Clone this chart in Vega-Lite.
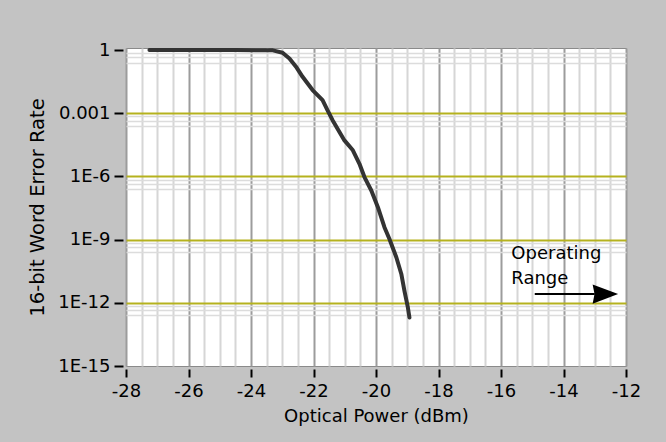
{
  "$schema": "https://vega.github.io/schema/vega-lite/v6.json",
  "width": 500,
  "height": 318,
  "autosize": {"type": "none"},
  "padding": {"left": 126, "top": 48, "right": 40, "bottom": 76},
  "background": "#c3c3c3",
  "config": {
    "view": {"fill": "white", "stroke": "#8a8a8a", "strokeWidth": 1},
    "font": "DejaVu Sans"
  },
  "datasets": {
    "curve": [
      {"power": -27.25, "wer": 1},
      {"power": -26.0, "wer": 1},
      {"power": -24.5, "wer": 1},
      {"power": -23.3, "wer": 0.97},
      {"power": -22.99, "wer": 0.741},
      {"power": -22.77, "wer": 0.398},
      {"power": -22.56, "wer": 0.162},
      {"power": -22.35, "wer": 0.0537},
      {"power": -22.03, "wer": 0.0126},
      {"power": -21.71, "wer": 0.00417},
      {"power": -21.55, "wer": 0.00138},
      {"power": -21.39, "wer": 0.000468},
      {"power": -21.17, "wer": 0.000129},
      {"power": -21.01, "wer": 0.0000513},
      {"power": -20.74, "wer": 0.0000174},
      {"power": -20.53, "wer": 0.00000398},
      {"power": -20.37, "wer": 9.33e-7},
      {"power": -20.15, "wer": 2.14e-7},
      {"power": -19.94, "wer": 3.47e-8},
      {"power": -19.73, "wer": 3.89e-9},
      {"power": -19.57, "wer": 1.07e-9},
      {"power": -19.35, "wer": 1.45e-10},
      {"power": -19.19, "wer": 2.34e-11},
      {"power": -19.09, "wer": 3.72e-12},
      {"power": -18.98, "wer": 6.03e-13},
      {"power": -18.93, "wer": 2.0e-13}
    ],
    "arrow": [
      {"from": -14.92, "to": -13.0, "level": 2.6e-12, "tip": -12.66}
    ],
    "notes": [
      {"power": -15.67, "wer": 1.2e-10, "text": "Operating"},
      {"power": -15.67, "wer": 7.8e-12, "text": "Range"}
    ]
  },
  "layer": [
    {
      "data": {"name": "curve"},
      "mark": {"type": "line", "color": "#333333", "strokeWidth": 4, "strokeCap": "round", "strokeJoin": "round", "clip": true},
      "encoding": {
        "x": {
          "field": "power",
          "type": "quantitative",
          "scale": {"domain": [-28, -12], "nice": false, "zero": false},
          "axis": {
            "values": [-28, -27.5, -27, -26.5, -26, -25.5, -25, -24.5, -24, -23.5, -23, -22.5, -22, -21.5, -21, -20.5, -20, -19.5, -19, -18.5, -18, -17.5, -17, -16.5, -16, -15.5, -15, -14.5, -14, -13.5, -13, -12.5, -12],
            "tickCount": 200,
            "title": "Optical Power (dBm)",
            "grid": true,
            "gridColor": {"condition": {"test": "datum.value % 2 == 0", "value": "#9c9c9c"}, "value": "#d6d6d6"},
            "gridWidth": 2,
            "domain": false,
            "offset": 3,
            "tickSize": 8,
            "tickWidth": 2,
            "tickColor": "black",
            "tickOpacity": {"condition": {"test": "datum.value % 2 == 0", "value": 1}, "value": 0},
            "labelExpr": "datum.value % 2 == 0 ? '' + datum.value : ''",
            "labelFontSize": 18,
            "labelPadding": 5,
            "labelColor": "black",
            "labelFlush": false,
            "labelOverlap": false,
            "labelBound": false,
            "titleFontSize": 18,
            "titleFontWeight": "normal",
            "titleColor": "black",
            "titlePadding": 7
          }
        },
        "y": {
          "field": "wer",
          "type": "quantitative",
          "scale": {"type": "log", "domain": [1e-15, 1.25], "nice": false},
          "axis": {
            "values": [1, 0.7, 0.45, 0.25, 0.001, 0.0007, 0.00045, 0.00025, 0.000001, 7e-7, 4.5e-7, 2.5e-7, 1e-9, 7e-10, 4.5e-10, 2.5e-10, 1e-12, 7e-13, 4.5e-13, 2.5e-13, 1e-15],
            "tickCount": 200,
            "title": "16-bit Word Error Rate",
            "grid": true,
            "gridColor": {"condition": {"test": "indexof([0.001, 0.000001, 1e-9, 1e-12], datum.value) >= 0", "value": "#b5b21e"}, "value": "#dcdcdc"},
            "gridOpacity": {"condition": {"test": "indexof([1, 1e-15], datum.value) >= 0", "value": 0}, "value": 1},
            "gridWidth": {"condition": {"test": "indexof([0.001, 0.000001, 1e-9, 1e-12], datum.value) >= 0", "value": 2}, "value": 1.5},
            "domain": false,
            "offset": 3,
            "tickSize": 9,
            "tickWidth": 2,
            "tickColor": "black",
            "tickOpacity": {"condition": {"test": "indexof([1, 0.001, 0.000001, 1e-9, 1e-12, 1e-15], datum.value) >= 0", "value": 1}, "value": 0},
            "labelExpr": "indexof([1, 0.001], datum.value) >= 0 ? '' + datum.value : (indexof([0.000001, 1e-9, 1e-12, 1e-15], datum.value) >= 0 ? '1E-' + round(-log(datum.value) / LN10) : '')",
            "labelFontSize": 18,
            "labelPadding": 4,
            "labelColor": "black",
            "labelFlush": false,
            "labelOverlap": false,
            "labelBound": false,
            "titleFontSize": 19.5,
            "titleFontWeight": "normal",
            "titleColor": "black",
            "titlePadding": 10
          }
        }
      }
    },
    {
      "data": {"name": "arrow"},
      "mark": {"type": "rule", "color": "black", "strokeWidth": 2},
      "encoding": {
        "x": {"field": "from", "type": "quantitative"},
        "x2": {"field": "to"},
        "y": {"field": "level", "type": "quantitative"}
      }
    },
    {
      "data": {"name": "arrow"},
      "mark": {"type": "point", "shape": "M -1 -0.75 L 1 0 L -1 0.75 L -0.85 0 Z", "filled": true, "color": "black", "size": 650, "opacity": 1},
      "encoding": {
        "x": {"field": "tip", "type": "quantitative"},
        "y": {"field": "level", "type": "quantitative"}
      }
    },
    {
      "data": {"name": "notes"},
      "mark": {"type": "text", "align": "left", "baseline": "alphabetic", "fontSize": 18, "color": "black", "font": "DejaVu Sans"},
      "encoding": {
        "x": {"field": "power", "type": "quantitative"},
        "y": {"field": "wer", "type": "quantitative"},
        "text": {"field": "text"}
      }
    }
  ]
}
